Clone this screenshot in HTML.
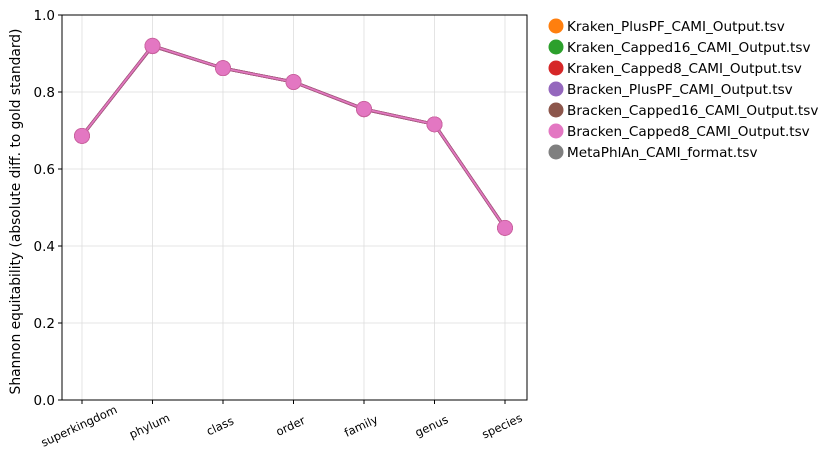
<!DOCTYPE html>
<html><head><meta charset="utf-8"><style>
body{margin:0;background:#fff;font-family:"DejaVu Sans","Liberation Sans",sans-serif;}
svg text{font-family:"DejaVu Sans","Liberation Sans",sans-serif;}
</style></head><body>
<svg id="chart" width="839" height="469" viewBox="0 0 839 469"></svg>
<script>
const categories=["superkingdom","phylum","class","order","family","genus","species"];
const seriesNames=["Kraken_PlusPF_CAMI_Output.tsv","Kraken_Capped16_CAMI_Output.tsv","Kraken_Capped8_CAMI_Output.tsv","Bracken_PlusPF_CAMI_Output.tsv","Bracken_Capped16_CAMI_Output.tsv","Bracken_Capped8_CAMI_Output.tsv","MetaPhlAn_CAMI_format.tsv"];
const colors=["#ff7f0e","#2ca02c","#d62728","#9467bd","#8c564b","#e377c2","#7f7f7f"];
const krakenPlusPF=[0.686,0.919,0.862,0.826,0.755,0.716,0.447];
const krakenCapped16=[0.686,0.919,0.862,0.826,0.755,0.716,0.447];
const krakenCapped8=[0.686,0.919,0.862,0.826,0.755,0.716,0.447];
const brackenPlusPF=[0.686,0.920,0.862,0.826,0.756,0.716,0.447];
const brackenCapped16=[0.686,0.920,0.862,0.826,0.756,0.716,0.447];
const brackenCapped8=[0.686,0.920,0.862,0.826,0.756,0.716,0.447];
const yTicks=[0.0,0.2,0.4,0.6,0.8,1.0];
const seriesValues=[krakenPlusPF,krakenCapped16,krakenCapped8,brackenPlusPF,brackenCapped16,brackenCapped8];

const svg=document.getElementById('chart');
const NS='http://www.w3.org/2000/svg';
const L=62,R=527,T=15,B=400;
const x=i=>82+i*(505-82)/(categories.length-1);
const y=v=>B-(v-0)/(1-0)*(B-T);
function mk(tag,attrs,parent){const e=document.createElementNS(NS,tag);for(const k in attrs)e.setAttribute(k,attrs[k]);(parent||svg).appendChild(e);return e;}

const grid=mk('g',{});


categories.forEach((c,i)=>{mk('line',{x1:x(i),x2:x(i),y1:T,y2:B,stroke:'#dddddd','stroke-width':0.8},grid);});
yTicks.forEach(t=>{mk('line',{x1:L,x2:R,y1:y(t),y2:y(t),stroke:'#dddddd','stroke-width':0.8},grid);});

const frame=mk('rect',{x:L,y:T,width:R-L,height:B-T,fill:'none',stroke:'#000','stroke-width':1});



yTicks.forEach(t=>{
  mk('line',{x1:L-4,x2:L,y1:y(t),y2:y(t),stroke:'#000'});
  const tx=mk('text',{x:L-7,y:y(t)+5,'text-anchor':'end','font-size':13.5});
  tx.textContent=t.toFixed(1);
  
  
});
categories.forEach((c,i)=>{
  mk('line',{x1:x(i),x2:x(i),y1:B,y2:B+4,stroke:'#000'});
  const cx=x(i)-3, cy=B+26;
  const tx=mk('text',{x:cx,y:cy+4,'text-anchor':'middle','font-size':11.5,transform:`rotate(-25 ${cx} ${cy})`});
  tx.textContent=c;
  
  
});
const yt=mk('text',{x:20,y:(T+B)/2+4,'text-anchor':'middle','font-size':13.8,transform:`rotate(-90 20 ${(T+B)/2+4})`});
yt.textContent='Shannon equitability (absolute diff. to gold standard)';



seriesValues.forEach((vals,s)=>{
  const g=mk('g',{});
  
  
  const pts=vals.map((v,i)=>x(i)+','+y(v)).join(' ');
  mk('polyline',{points:pts,fill:'none',stroke:'#a65a7f','stroke-width':3},g);
  mk('polyline',{points:pts,fill:'none',stroke:colors[s],'stroke-width':1.6},g);
  vals.forEach((v,i)=>{
    const c=mk('circle',{cx:x(i),cy:y(v),r:7.5,fill:colors[s],stroke:'#c9639f','stroke-width':0.8},g);
    
    
  });
});

const leg=mk('g',{});


seriesNames.forEach((n,i)=>{
  const yy=26+i*21;
  mk('circle',{cx:556,cy:yy,r:7.5,fill:colors[i]},leg);
  const tx=mk('text',{x:567,y:yy+5,'font-size':13.6},leg);
  tx.textContent=n;
  
  
});
</script>
</body></html>
